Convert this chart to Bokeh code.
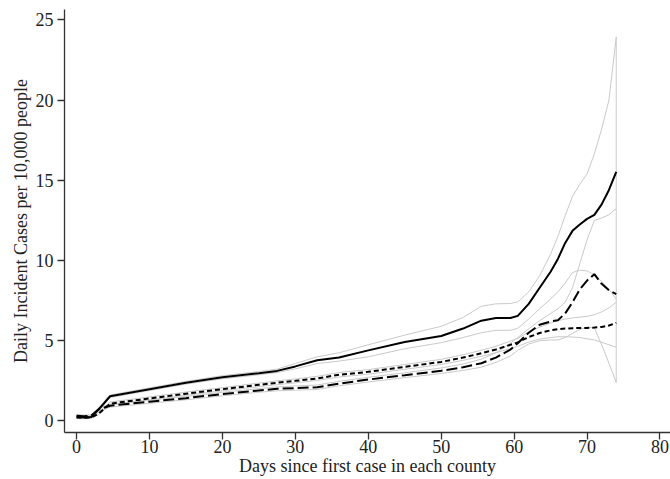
from bokeh.plotting import figure
from bokeh.models import Range1d, FixedTicker
from bokeh.embed import file_html
from bokeh.resources import INLINE

days = [0, 1, 2, 3, 4.6, 10, 15, 20, 25, 27.5, 30, 33, 36, 40, 45, 50, 53, 55.5, 57.5,
        59.5, 60.5, 62, 63.5, 65, 66, 67, 68, 69, 70, 71, 72, 73, 74]

solid_mean = [0.27, 0.22, 0.25, 0.7, 1.54, 1.98, 2.38, 2.72, 2.98, 3.12, 3.4, 3.78, 3.95, 4.4,
              4.92, 5.3, 5.76, 6.25, 6.42, 6.42, 6.55, 7.3, 8.3, 9.3, 10.1, 11.1, 11.85, 12.25,
              12.6, 12.85, 13.5, 14.4, 15.52]
solid_upper = [0.35, 0.3, 0.33, 0.78, 1.62, 2.06, 2.47, 2.82, 3.08, 3.23, 3.58, 4.0, 4.25, 4.75,
               5.35, 5.9, 6.45, 7.15, 7.3, 7.32, 7.42, 8.04, 9.05, 10.4, 11.5, 12.8, 14.0, 14.75,
               15.4, 16.65, 18.2, 20.0, 23.94]
solid_lower = [0.2, 0.15, 0.18, 0.63, 1.46, 1.9, 2.3, 2.63, 2.88, 3.02, 3.25, 3.58, 3.73, 4.0,
               4.5, 4.88, 5.2, 5.5, 5.65, 5.65, 5.78, 6.35, 7.0, 7.6, 8.05, 8.6, 9.25, 9.4,
               9.35, 9.12, 8.7, 8.2, 7.6]

short_mean = [0.22, 0.2, 0.22, 0.45, 1.08, 1.4, 1.7, 1.98, 2.25, 2.38, 2.5, 2.65, 2.88, 3.06,
              3.37, 3.68, 3.95, 4.22, 4.45, 4.75, 4.9, 5.23, 5.48, 5.65, 5.72, 5.76, 5.78, 5.8,
              5.8, 5.82, 5.86, 5.95, 6.11]
short_upper = [0.29, 0.27, 0.29, 0.52, 1.18, 1.5, 1.8, 2.08, 2.36, 2.5, 2.62, 2.78, 3.02, 3.2,
               3.52, 3.84, 4.12, 4.41, 4.65, 4.98, 5.15, 5.55, 5.85, 6.1, 6.25, 6.35, 6.42, 6.47,
               6.52, 6.62, 6.8, 7.05, 7.4]
short_lower = [0.15, 0.13, 0.15, 0.38, 0.98, 1.3, 1.6, 1.88, 2.14, 2.26, 2.38, 2.52, 2.74, 2.92,
               3.22, 3.52, 3.78, 4.03, 4.25, 4.52, 4.65, 4.92, 5.1, 5.2, 5.25, 5.25, 5.23, 5.2,
               5.12, 5.05, 4.9, 4.75, 4.6]

long_mean = [0.33, 0.3, 0.32, 0.72, 0.95, 1.2, 1.42, 1.68, 1.9, 2.0, 2.05, 2.1, 2.33, 2.58,
             2.85, 3.13, 3.35, 3.6, 3.95, 4.45, 4.85, 5.5, 6.0, 6.2, 6.28, 6.7, 7.4, 8.2,
             8.75, 9.15, 8.55, 8.15, 7.9]
long_upper = [0.4, 0.37, 0.39, 0.8, 1.05, 1.3, 1.52, 1.79, 2.01, 2.12, 2.18, 2.24, 2.47, 2.72,
              3.0, 3.3, 3.55, 3.85, 4.25, 4.85, 5.2, 5.75, 6.25, 6.7, 7.0, 7.4, 8.3, 9.8,
              11.3, 12.5, 12.65, 12.85, 13.24]
long_lower = [0.26, 0.23, 0.25, 0.64, 0.86, 1.1, 1.32, 1.57, 1.79, 1.88, 1.92, 1.96, 2.19, 2.43,
              2.7, 2.96, 3.15, 3.35, 3.65, 4.05, 4.4, 4.8, 5.0, 5.05, 5.05, 5.2, 5.45, 5.7,
              5.85, 5.8, 4.75, 3.6, 2.4]

x_ticks = [0, 10, 20, 30, 40, 50, 60, 70, 80]
y_ticks = [0, 5, 10, 15, 20, 25]
x_label = "Days since first case in each county"
y_label = "Daily Incident Cases per 10,000 people"

FONT = "Liberation Serif"
GREY = "#c9c9c9"

p = figure(width=670, height=479, output_backend="svg", toolbar_location=None,
           x_range=Range1d(-1.65, 81.44), y_range=Range1d(-0.72, 25.65),
           min_border_left=64, min_border_right=0, min_border_top=9, min_border_bottom=47)
p.outline_line_color = None
p.background_fill_color = "white"
p.border_fill_color = "white"
p.grid.visible = False

# confidence bounds (grey)
for band in (solid_upper, solid_lower, short_upper, short_lower, long_upper, long_lower):
    p.line(days, band, line_color=GREY, line_width=1)
ends = [solid_upper[-1], solid_lower[-1], short_upper[-1], short_lower[-1],
        long_upper[-1], long_lower[-1]]
p.segment(x0=[days[-1]], y0=[min(ends)], x1=[days[-1]], y1=[max(ends)],
          line_color=GREY, line_width=1)

# estimates (black)
p.line(days, long_mean, line_color="black", line_width=2, line_dash="11 4")
p.line(days, short_mean, line_color="black", line_width=2, line_dash="5 3")
p.line(days, solid_mean, line_color="black", line_width=2)

for ax in (p.xaxis[0], p.yaxis[0]):
    ax.axis_line_color = "#333333"
    ax.axis_line_width = 1.3
    ax.major_tick_line_color = "#333333"
    ax.major_tick_line_width = 1.3
    ax.major_tick_out = 7
    ax.major_tick_in = 0
    ax.minor_tick_line_color = None
    ax.major_label_text_font = FONT
    ax.major_label_text_font_size = "18px"
    ax.major_label_text_color = "#222222"
    ax.axis_label_text_font = FONT
    ax.axis_label_text_font_size = "18px"
    ax.axis_label_text_font_style = "normal"
    ax.axis_label_text_color = "#222222"

p.xaxis[0].ticker = FixedTicker(ticks=x_ticks)
p.yaxis[0].ticker = FixedTicker(ticks=y_ticks)
p.xaxis[0].axis_label = x_label
p.yaxis[0].axis_label = y_label
p.xaxis[0].major_label_standoff = 0
p.xaxis[0].axis_label_standoff = 0
p.yaxis[0].major_label_standoff = 4
p.yaxis[0].axis_label_standoff = 2

open("out.html", "w").write(file_html(p, INLINE))
